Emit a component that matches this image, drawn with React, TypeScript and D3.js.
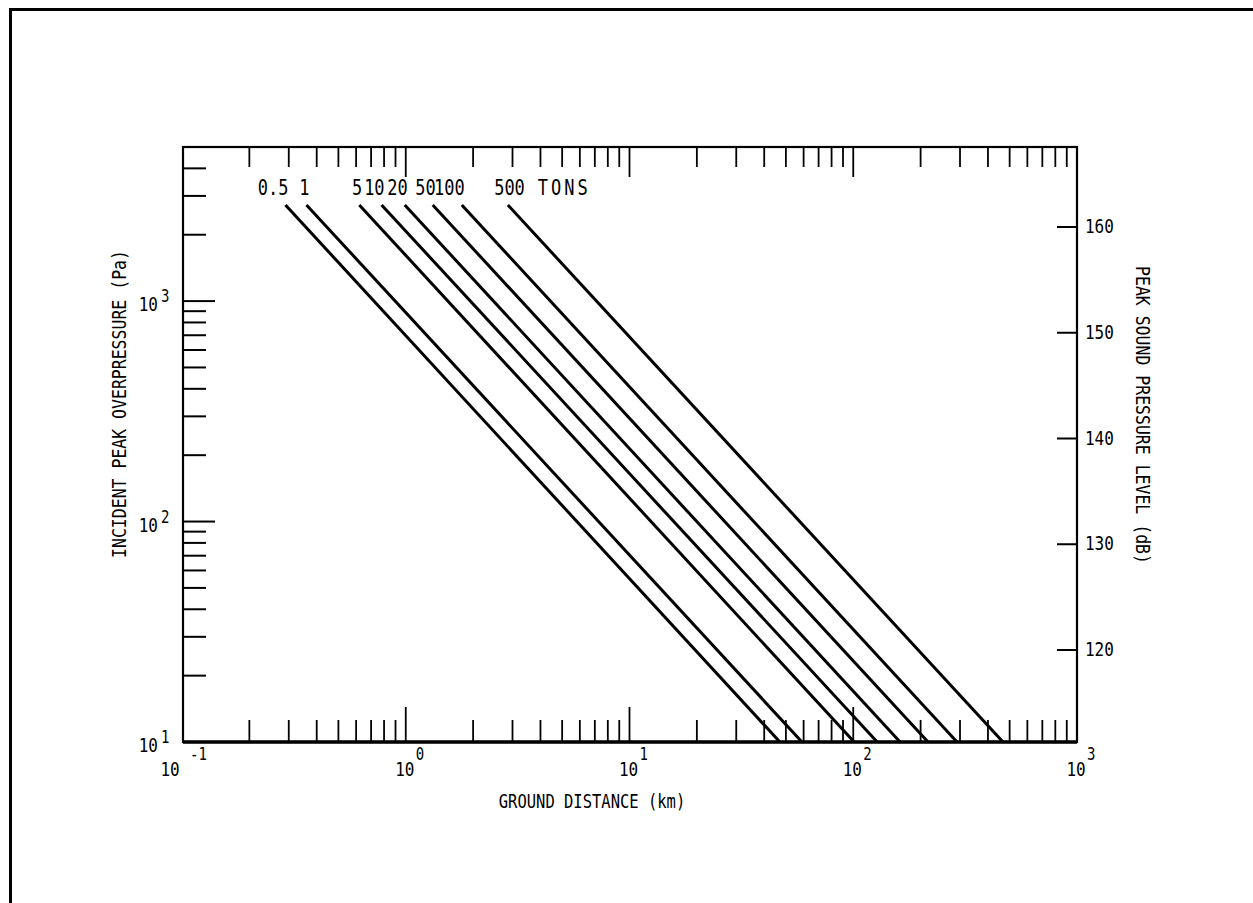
import React, { useRef, useEffect } from 'react';
import * as d3 from 'd3';

// yield of each curve (tons)
const yields = ["0.5", "1", "5", "10", "20", "50", "100", "500"];
// ground distance (km) where each curve starts (at pStart) and where it reaches pEnd
const distStart = [0.29, 0.36, 0.62, 0.78, 0.99, 1.32, 1.78, 2.86];
const distEnd = [47, 59, 101, 128, 162, 216, 291, 467];
const pStart = 2730;
const pEnd = 10;

// right hand axis, peak sound pressure level (dB)
const dbTicks = [120, 130, 140, 150, 160];

const FONT = "DejaVu Sans Mono";

function App() {
  const ref = useRef(null);

  useEffect(() => {
    const svg = d3.select(ref.current);
    svg.selectAll("*").remove();

    var left = 183, right = 1077, top = 147, bottom = 742;

    var x = d3.scaleLog().domain([0.1, 1000]).range([182, 1077]);
    var y = d3.scaleLog().domain([10, 5000]).range([bottom, top]);
    var db = d3.scaleLinear().domain([120, 160]).range([650, 227]);

    const isDecade = (v) => Math.abs(Math.log10(v) - Math.round(Math.log10(v))) < 1e-9;

    // tall narrow typewriter look
    const txt = (px, py, s, size, anchor, rot = 0, ls = 0) => {
      svg.append("text")
        .attr("transform", "translate(" + px + "," + py + ") rotate(" + rot + ") scale(1,1.2)")
        .attr("font-family", FONT)
        .attr("font-size", size)
        .attr("letter-spacing", ls)
        .attr("text-anchor", anchor)
        .attr("fill", "#000")
        .text(s);
    };

    // page border (only top and left edges show)
    svg.append("line").attr("x1", 9).attr("x2", 1253).attr("y1", 9.5).attr("y2", 9.5)
      .attr("stroke", "#000").attr("stroke-width", 3);
    svg.append("line").attr("x1", 10.5).attr("x2", 10.5).attr("y1", 8).attr("y2", 903)
      .attr("stroke", "#000").attr("stroke-width", 3);

    // frame
    svg.append("rect")
      .attr("x", left).attr("y", top)
      .attr("width", right - left).attr("height", bottom - top)
      .attr("fill", "none").attr("stroke", "#000").attr("stroke-width", 2.2);
    svg.append("line").attr("x1", left).attr("x2", right).attr("y1", bottom).attr("y2", bottom)
      .attr("stroke", "#000").attr("stroke-width", 3.5);

    // x ticks, bottom (pointing up) and top (pointing down)
    var xt = x.ticks().filter((v) => v > 0.1 && v <= 1000);
    svg.append("g").selectAll("line").data(xt).enter().append("line")
      .attr("x1", (d) => x(d)).attr("x2", (d) => x(d))
      .attr("y1", bottom).attr("y2", (d) => bottom - (isDecade(d) ? 35 : 22))
      .attr("stroke", "#000").attr("stroke-width", 1.8);
    svg.append("g").selectAll("line").data(xt).enter().append("line")
      .attr("x1", (d) => x(d)).attr("x2", (d) => x(d))
      .attr("y1", top).attr("y2", (d) => top + (isDecade(d) ? 30 : 20))
      .attr("stroke", "#000").attr("stroke-width", 1.8);

    // y ticks, left (pointing right)
    var yt = y.ticks().filter((v) => v > 10 && v < 5000);
    svg.append("g").selectAll("line").data(yt).enter().append("line")
      .attr("x1", left).attr("x2", (d) => left + (isDecade(d) ? 32 : 23))
      .attr("y1", (d) => y(d)).attr("y2", (d) => y(d))
      .attr("stroke", "#000").attr("stroke-width", 2);

    // dB ticks, right (pointing left)
    svg.append("g").selectAll("line").data(dbTicks).enter().append("line")
      .attr("x1", right).attr("x2", right - 20)
      .attr("y1", (d) => db(d)).attr("y2", (d) => db(d))
      .attr("stroke", "#000").attr("stroke-width", 2);
    dbTicks.forEach((d) => txt(right + 8, db(d) + 6, String(d), 16, "start"));

    // x tick labels
    [0.1, 1, 10, 100, 1000].forEach((v) => {
      var e = Math.round(Math.log10(v));
      txt(x(v) + (v === 0.1 ? -12 : -1), 776, "10", 16, "middle");
      txt(x(v) + (v === 0.1 ? 8 : 10), 760, String(e), 14, "start");
    });

    // y tick labels
    [10, 100, 1000].forEach((v) => {
      var e = Math.round(Math.log10(v));
      txt(158, y(v) + 10, "10", 16, "end");
      txt(161, y(v) + 1, String(e), 14, "start");
    });

    // curves
    var line = d3.line().x((d) => x(d[0])).y((d) => y(d[1]));
    svg.append("g").selectAll("path").data(yields).enter().append("path")
      .attr("d", (d, i) => line([[distStart[i], pStart], [distEnd[i], pEnd]]))
      .attr("fill", "none").attr("stroke", "#000").attr("stroke-width", 3);

    // curve labels
    yields.forEach((s, i) => {
      var last = i === yields.length - 1;
      txt(x(distStart[i]) + (last ? 17 : 3), 195, s, 17, "end");
    });
    txt(x(distStart[yields.length - 1]) + 30, 195, "TONS", 17, "start", 0, 3);

    // axis titles
    txt(592, 808, "GROUND DISTANCE (km)", 15.5, "middle");
    txt(126, 404, "INCIDENT PEAK OVERPRESSURE (Pa)", 16.5, "middle", -90);
    txt(1136, 415, "PEAK SOUND PRESSURE LEVEL (dB)", 16.5, "middle", 90);
  }, []);

  return (
    <svg ref={ref} width={1253} height={903}
      style={{ position: "absolute", left: 0, top: 0, background: "#fff" }}>
    </svg>
  );
}

export default App;
